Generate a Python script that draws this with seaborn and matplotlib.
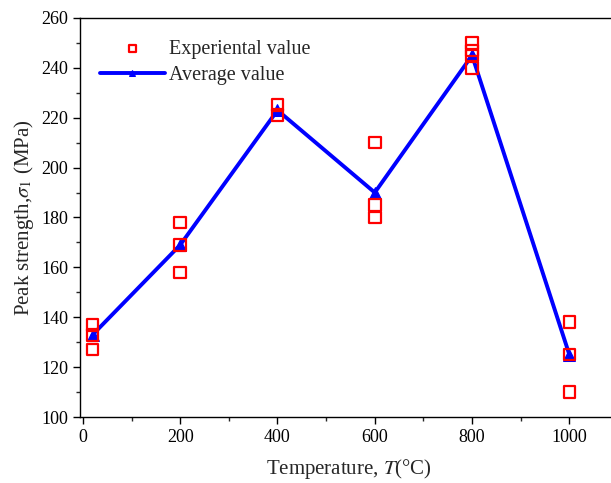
import matplotlib
matplotlib.use("Agg")
import matplotlib.pyplot as plt
import seaborn as sns
import pandas as pd
from matplotlib.ticker import MultipleLocator

# Data
exp_temp = [20, 20, 20, 200, 200, 200, 400, 400, 600, 600, 600, 800, 800, 800, 800, 1000, 1000, 1000]
exp_strength = [137, 133, 127, 178, 169, 158, 225, 221, 210, 185, 180, 250, 247, 245, 240, 138, 125, 110]
avg_temp = [20, 200, 400, 600, 800, 1000]
avg_strength = [133, 169, 223, 190, 245, 125]

sns.set_style("ticks")
plt.rcParams['font.family'] = ['Liberation Serif', 'DejaVu Serif']
plt.rcParams['mathtext.fontset'] = 'stix'

df_exp = pd.DataFrame({"T": exp_temp, "S": exp_strength})
df_avg = pd.DataFrame({"T": avg_temp, "S": avg_strength})

fig = plt.figure(figsize=(6.11, 4.83), dpi=100)
ax = fig.add_axes([80/611, 1-417/483, (618-80)/611, (417-18)/483])

sns.lineplot(data=df_avg, x="T", y="S", ax=ax, color="#0000ff", linewidth=2.8,
             marker="^", markersize=8, markeredgecolor="#0000ff", label="Average value", zorder=2)
sns.scatterplot(data=df_exp, x="T", y="S", ax=ax, marker="s", s=70, facecolor="none",
                edgecolor="#ff0000", linewidth=1.6, label="Experiental value", zorder=3)

ax.set_xlim(-6, 1100)
ax.set_ylim(100, 260)
ax.xaxis.set_major_locator(MultipleLocator(200))
ax.xaxis.set_minor_locator(MultipleLocator(100))
ax.yaxis.set_major_locator(MultipleLocator(20))
ax.yaxis.set_minor_locator(MultipleLocator(10))
ax.tick_params(which="major", direction="out", length=5, width=1, labelsize=13, colors="black")
ax.tick_params(which="minor", direction="out", length=3, width=1)
for s in ax.spines.values():
    s.set_linewidth(1.0)
    s.set_color("black")
ax.set_xlabel(r"Temperature, $\mathit{T}$(°C)", fontsize=15, labelpad=8)
ax.set_ylabel(r"Peak strength,$\sigma_1$ (MPa)", fontsize=15, labelpad=4)

h, l = ax.get_legend_handles_labels()
order = [l.index("Experiental value"), l.index("Average value")]
leg = ax.legend([h[i] for i in order], [l[i] for i in order], loc="upper left",
                bbox_to_anchor=(0.004, 0.99), frameon=False, fontsize=14.5,
                handlelength=3.2, handletextpad=0.2, labelspacing=0.35, markerscale=0.6)

fig.savefig("out.png", dpi=100)
